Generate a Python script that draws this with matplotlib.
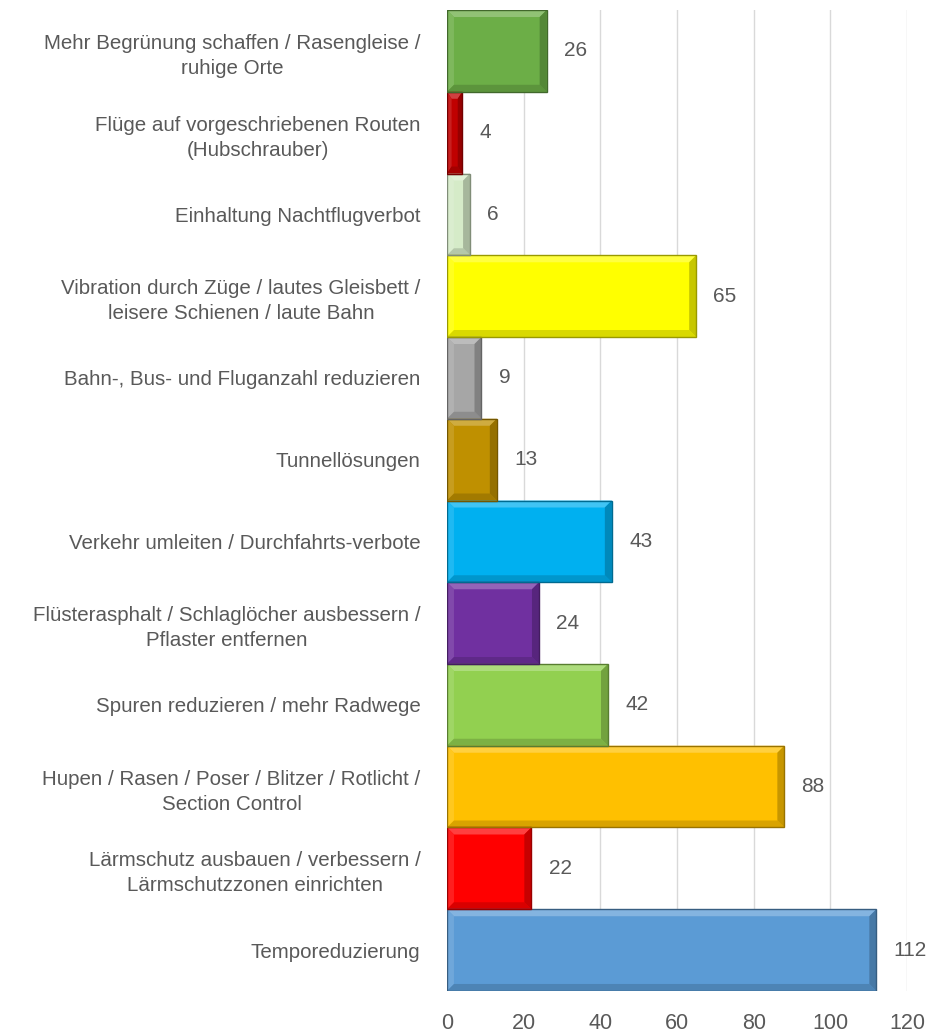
import numpy as np
import matplotlib.pyplot as plt
import matplotlib.colors as mcolors
from matplotlib.patches import Polygon

# Kategorien von unten nach oben
labels = [
    'Temporeduzierung',
    'Lärmschutz ausbauen / verbessern /\nLärmschutzzonen einrichten',
    'Hupen / Rasen / Poser / Blitzer / Rotlicht /\nSection Control',
    'Spuren reduzieren / mehr Radwege',
    'Flüsterasphalt / Schlaglöcher ausbessern /\nPflaster entfernen',
    'Verkehr umleiten / Durchfahrts-verbote',
    'Tunnellösungen',
    'Bahn-, Bus- und Fluganzahl reduzieren',
    'Vibration durch Züge / lautes Gleisbett /\nleisere Schienen / laute Bahn',
    'Einhaltung Nachtflugverbot',
    'Flüge auf vorgeschriebenen Routen\n(Hubschrauber)',
    'Mehr Begrünung schaffen / Rasengleise /\nruhige Orte',
]
werte = [112, 22, 88, 42, 24, 43, 13, 9, 65, 6, 4, 26]
farben = ['#5B9BD5', '#FF0000', '#FFC000', '#92D050', '#7030A0', '#00B0F0',
          '#BF9000', '#A6A6A6', '#FFFF00', '#D5EBC8', '#C00000', '#6CAE47']
xticks = [0, 20, 40, 60, 80, 100, 120]

plt.rcParams['font.family'] = ['Liberation Sans', 'DejaVu Sans']
textfarbe = '#595959'

fig = plt.figure(figsize=(9.32, 10.34), dpi=100)
ax = fig.add_axes([0.4796, 0.0416, 0.4936, 0.9487])
ax.set_xlim(0, 120)
ax.set_ylim(-0.5, len(werte) - 0.5)

y = np.arange(len(werte))


def mix(c, f, ziel):
    c = np.array(mcolors.to_rgb(c))
    return tuple(c * (1 - f) + np.array(ziel) * f)


ax.barh(y, werte, height=1.0, color=farben, linewidth=0, zorder=2)

# Abschrägung (Bevel) wie im Original, etwas weicher
px_x = 0.4936 * 932 / 120
px_y = 0.9487 * 1034 / len(werte)
for yi, w, c in zip(y, werte, farben):
    bx = min(7 / px_x, w * 0.3)
    by = 7 / px_y
    x0, x1, y0, y1 = 0, w, yi - 0.5, yi + 0.5
    teile = [
        ([(x0, y1), (x1, y1), (x1 - bx, y1 - by), (x0 + bx, y1 - by)], mix(c, 0.25, (1, 1, 1))),
        ([(x0, y0), (x0, y1), (x0 + bx, y1 - by), (x0 + bx, y0 + by)], mix(c, 0.12, (1, 1, 1))),
        ([(x0, y0), (x1, y0), (x1 - bx, y0 + by), (x0 + bx, y0 + by)], mix(c, 0.15, (0, 0, 0))),
        ([(x1, y0), (x1, y1), (x1 - bx, y1 - by), (x1 - bx, y0 + by)], mix(c, 0.22, (0, 0, 0))),
    ]
    for pts, fc in teile:
        ax.add_patch(Polygon(pts, closed=True, facecolor=fc, edgecolor='none', zorder=3))
    ax.barh(yi, w, height=1.0, color='none', edgecolor=mix(c, 0.4, (0, 0, 0)),
            linewidth=1.0, zorder=4)

for yi, w in zip(y, werte):
    ax.text(w + 4.5, yi, str(w), va='center', ha='left', fontsize=15,
            color=textfarbe, clip_on=False)

ax.set_xticks(xticks)
ax.set_xticklabels([str(t) for t in xticks], fontsize=15.5, color=textfarbe)
ax.set_yticks(y)
ax.set_yticklabels(labels, fontsize=14.8, color=textfarbe, multialignment='center',
                   linespacing=1.4)
ax.tick_params(axis='both', length=0)
ax.tick_params(axis='y', pad=19)
ax.tick_params(axis='x', pad=16)
ax.grid(axis='x', color='#D9D9D9', linewidth=1, zorder=0)
ax.set_axisbelow(True)
for s in ax.spines.values():
    s.set_visible(False)

fig.savefig('out.png', dpi=100)
